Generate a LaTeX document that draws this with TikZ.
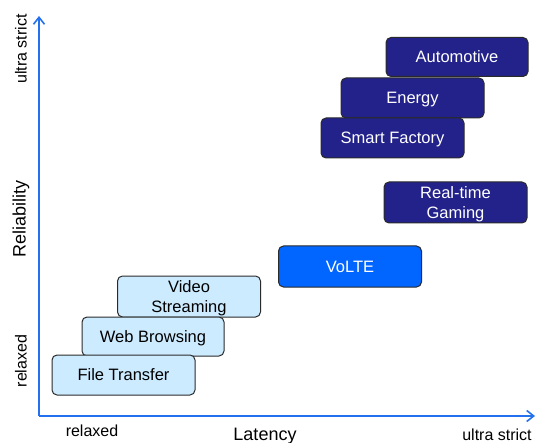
\documentclass[tikz,border=0pt]{standalone}
\usepackage{fontspec}
\setmainfont{Liberation Sans}
\usetikzlibrary{arrows.meta}
\definecolor{navy}{HTML}{22228A}
\definecolor{volte}{HTML}{0066FF}
\definecolor{lightb}{HTML}{CCEBFF}
\definecolor{axisblue}{HTML}{2370F0}
\definecolor{edge}{HTML}{2A2A2A}
\tikzset{
  usecase/.style={draw=edge, line width=1pt, rounded corners=5pt, minimum width=143pt,
    minimum height=40pt, inner sep=0pt, align=center, text depth=0pt, font=\fontsize{16.5}{20}\selectfont},
  darkcase/.style={usecase, fill=navy, text=white},
  midcase/.style={usecase, fill=volte, text=white},
  lightcase/.style={usecase, fill=lightb, text=black},
  axisline/.style={draw=axisblue, line width=1.8pt, -{Straight Barb[length=7pt,width=11pt,line width=1.6pt]}},
  axislabel/.style={font=\fontsize{16}{18}\selectfont, inner sep=0pt},
  axistitle/.style={font=\fontsize{18}{20}\selectfont, inner sep=0pt}
}
\begin{document}
\begin{tikzpicture}[x=1pt,y=-1pt]
\useasboundingbox (0,0) rectangle (537,443);
% axes
\coordinate (o) at (39,416);
\coordinate (ytip) at (39,16);
\coordinate (xtip) at (535,416);
\draw[axisline] (o) -- (ytip);
\draw[axisline] (o) -- (xtip);
% axis labels
\node[axislabel, rotate=90] (ystrict) at (21,49) {ultra strict};
\node[axistitle, rotate=90] (yrel) at (21,219) {Reliability};
\node[axislabel, rotate=90] (yrelax) at (21,361) {relaxed};
\node[axislabel] (xrelax) at (92,431) {relaxed};
\node[axistitle] (xlat) at (265,436) {Latency};
\node[axislabel] (xstrict) at (497,435) {ultra strict};
% use cases
\node[darkcase, minimum width=142pt, minimum height=39pt] (auto) at (457,57) {Automotive};
\node[darkcase] (energy) at (412.5,98) {Energy};
\node[darkcase] (smart) at (392.5,138) {Smart Factory};
\node[darkcase, minimum height=41pt] (gaming) at (455.5,202.5) {Real-time\\Gaming};
\node[midcase, minimum height=41pt] (volte) at (350,266.5) {VoLTE};
\node[lightcase, minimum height=41pt] (video) at (189,296.5) {Video\\Streaming};
\node[lightcase, minimum width=142pt, minimum height=39pt] (web) at (153,336.5) {Web Browsing};
\node[lightcase] (file) at (123.5,375) {File Transfer};
\end{tikzpicture}
\end{document}
